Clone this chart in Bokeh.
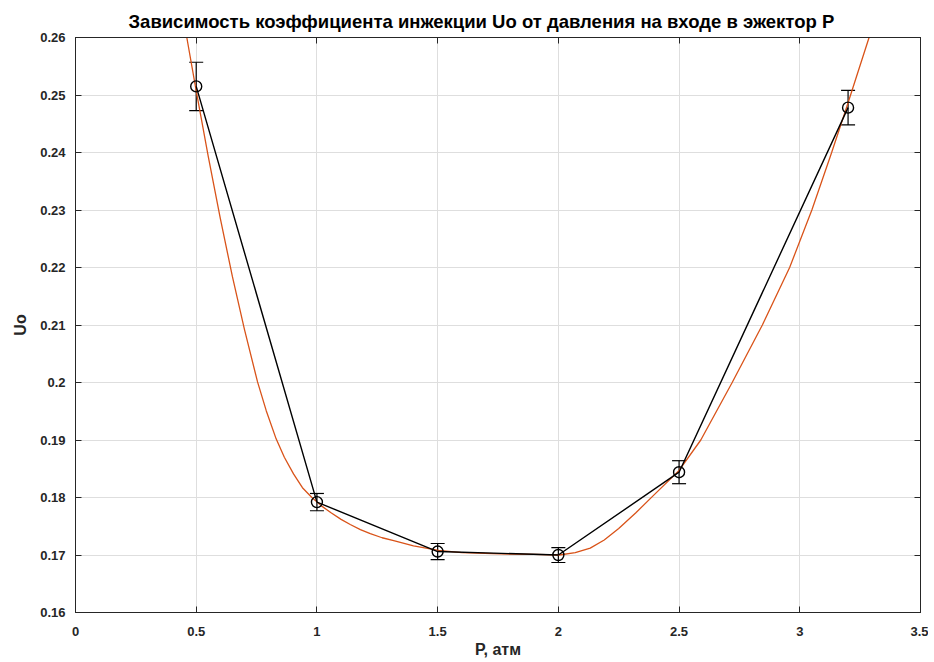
from bokeh.plotting import figure
from bokeh.models import ColumnDataSource, Whisker, LinearAxis, Range1d, FixedTicker
from bokeh.embed import file_html
from bokeh.resources import INLINE

# Measured data
P = [0.5, 1.0, 1.5, 2.0, 2.5, 3.2]
U = [0.2515, 0.1792, 0.1706, 0.1700, 0.1844, 0.2478]
U_err = [0.0042, 0.0015, 0.0014, 0.0013, 0.0020, 0.0030]

# Approximating curve
fit_x = [0.461, 0.500, 0.550, 0.600, 0.650, 0.700, 0.754, 0.790, 0.831, 0.865,
         0.903, 0.940, 0.979, 1.020, 1.060, 1.100, 1.138, 1.180, 1.221, 1.270,
         1.318, 1.400, 1.504, 1.600, 1.759, 1.900, 2.004, 2.070, 2.132, 2.190,
         2.250, 2.320, 2.390, 2.500, 2.590, 2.720, 2.845, 2.958, 3.050, 3.132,
         3.195, 3.287]
fit_y = [0.2600, 0.2507, 0.2393, 0.2285, 0.2184, 0.2092, 0.2001, 0.1951, 0.1902, 0.1870,
         0.1841, 0.1817, 0.1800, 0.1785, 0.1773, 0.1762, 0.1753, 0.1744, 0.1737, 0.1730,
         0.1725, 0.1716, 0.1708, 0.1704, 0.1702, 0.1701, 0.1700, 0.1704, 0.1712, 0.1726,
         0.1746, 0.1773, 0.1802, 0.1847, 0.1900, 0.2000, 0.2100, 0.2200, 0.2300, 0.2400,
         0.2480, 0.2600]

x_ticks = [0, 0.5, 1, 1.5, 2, 2.5, 3, 3.5]
y_ticks = [0.16, 0.17, 0.18, 0.19, 0.20, 0.21, 0.22, 0.23, 0.24, 0.25, 0.26]

TITLE = "Зависимость коэффициента инжекции Uo от давления на входе в эжектор P"
XLABEL = "P, атм"
YLABEL = "Uo"

FONT = "Liberation Sans"
AX = "#262626"

p = figure(width=928, height=660, output_backend="svg", toolbar_location=None,
           x_range=Range1d(0, 3.5), y_range=Range1d(0.16, 0.26),
           min_border_left=75, min_border_right=8, min_border_top=37, min_border_bottom=48)

p.title.text = TITLE
p.title.align = "left"
p.title.offset = 53
p.title.text_font = FONT
p.title.text_font_size = "18.5px"
p.title.text_font_style = "bold"
p.title.text_color = "black"
p.title.standoff = 12

p.outline_line_color = AX
p.background_fill_color = "white"
p.border_fill_color = "white"

for ax in (p.xaxis[0], p.yaxis[0]):
    ax.axis_line_color = AX
    ax.major_tick_line_color = AX
    ax.major_tick_in = 6
    ax.major_tick_out = 0
    ax.minor_tick_line_color = None
    ax.major_label_text_color = AX
    ax.major_label_text_font = FONT
    ax.major_label_text_font_size = "13px"
    ax.major_label_text_font_style = "bold"
    ax.axis_label_text_font = FONT
    ax.axis_label_text_font_size = "16px"
    ax.axis_label_text_font_style = "bold"
    ax.axis_label_text_color = AX

p.xaxis[0].ticker = FixedTicker(ticks=x_ticks)
p.yaxis[0].ticker = FixedTicker(ticks=y_ticks)
p.xaxis[0].axis_label = XLABEL
p.yaxis[0].axis_label = YLABEL
p.xaxis[0].major_label_standoff = 14
p.xaxis[0].axis_label_standoff = 2
p.yaxis[0].major_label_standoff = 10
p.yaxis[0].axis_label_standoff = 8
p.yaxis[0].major_label_overrides = {0.2: "0.2"}

# mirrored axes (ticks only, no labels)
for side, ticks in (("above", x_ticks), ("right", y_ticks)):
    a = LinearAxis(ticker=FixedTicker(ticks=ticks))
    a.axis_line_color = AX
    a.major_tick_line_color = AX
    a.major_tick_in = 6
    a.major_tick_out = 0
    a.minor_tick_line_color = None
    a.major_label_overrides = {t: "" for t in ticks}
    a.major_label_text_font_size = "1px"
    a.major_label_standoff = 0
    p.add_layout(a, side)

p.xgrid.ticker = FixedTicker(ticks=x_ticks)
p.ygrid.ticker = FixedTicker(ticks=y_ticks)
p.grid.grid_line_color = "#dedede"
p.grid.grid_line_width = 1

src = ColumnDataSource(data=dict(
    x=P, y=U,
    lower=[u - e for u, e in zip(U, U_err)],
    upper=[u + e for u, e in zip(U, U_err)],
))

p.line(fit_x, fit_y, line_color="#D95319", line_width=1.3)
p.line("x", "y", source=src, line_color="black", line_width=1.4)

w = Whisker(source=src, base="x", lower="lower", upper="upper",
            line_color="black", line_width=1.2)
w.upper_head.size = 14
w.lower_head.size = 14
w.upper_head.line_color = "black"
w.lower_head.line_color = "black"
w.upper_head.line_width = 1.2
w.lower_head.line_width = 1.2
p.add_layout(w)

p.scatter("x", "y", source=src, marker="circle", size=11, fill_color=None,
          line_color="black", line_width=1.4)

open("out.html", "w").write(file_html(p, INLINE))
